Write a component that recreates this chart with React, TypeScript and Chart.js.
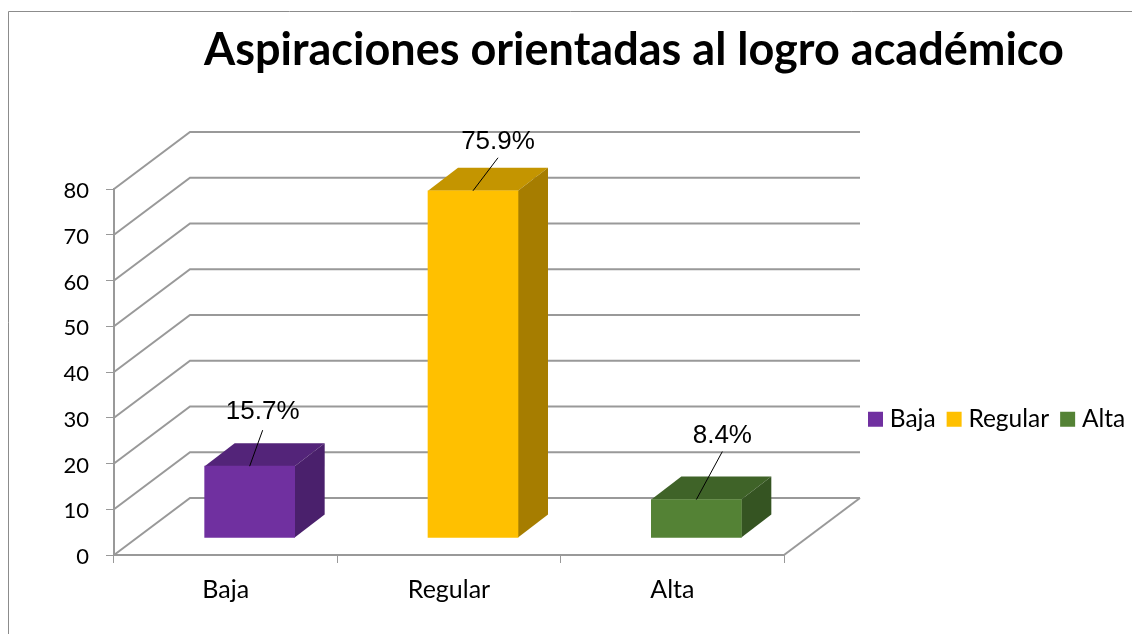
import React, { useEffect, useRef } from "react";
import { Chart, registerables } from "chart.js";

Chart.register(...registerables);

const categories = ["Baja", "Regular", "Alta"];
const values = [15.7, 75.9, 8.4];
const valueLabels = ["15.7%", "75.9%", "8.4%"];
const frontColors = ["#7030A0", "#FFC000", "#548235"];
const topColors = ["#532479", "#C49500", "#3F6328"];
const sideColors = ["#4A206C", "#A67D00", "#355422"];
const labelShiftX = [13, 25, 26];
const labelShiftY = [-54, -49, -64];
const leaderShiftY = [-36, -33, -48];
const chartTitle = "Aspiraciones orientadas al logro académico";

const GRID = "#999999";
const WALL_DX = 76;
const WALL_DY = 57;
const BAR_DX = 24;
const BAR_DY = 17;
const DEPTH_DX = 30;
const DEPTH_DY = 23;

const scene = {
  id: "scene",
  beforeDraw(chart: any) {
    const { ctx, width, height } = chart;
    ctx.save();
    ctx.fillStyle = "#fff";
    ctx.fillRect(0, 0, width, height);
    ctx.strokeStyle = "#8c8c8c";
    ctx.lineWidth = 1;
    ctx.beginPath();
    ctx.moveTo(8.5, height);
    ctx.lineTo(8.5, 11.5);
    ctx.lineTo(width, 11.5);
    ctx.stroke();
    ctx.restore();
  },
  afterLayout(chart: any) {
    const t = chart.titleBlock;
    t.left = 100;
    t.right = 1168;
    t.top = 50 - t.height / 2;
    t.bottom = t.top + t.height;
    const l = chart.legend;
    l.left = 873.5 - l.options.labels.padding;
    l.right = 1500;
    l.top = 407 - l.options.labels.padding;
    l.bottom = l.top + l.height;
  },
  beforeDatasetsDraw(chart: any) {
    const { ctx, scales, chartArea } = chart;
    const y = scales.y;
    ctx.save();
    ctx.strokeStyle = GRID;
    ctx.lineWidth = 2;
    y.ticks.forEach((tick: any) => {
      const py = y.getPixelForValue(tick.value);
      ctx.beginPath();
      ctx.moveTo(chartArea.left, py);
      ctx.lineTo(chartArea.left + WALL_DX, py - WALL_DY);
      ctx.lineTo(chartArea.right + WALL_DX, py - WALL_DY);
      ctx.stroke();
    });
    ctx.beginPath();
    ctx.moveTo(chartArea.right + WALL_DX, chartArea.bottom - WALL_DY);
    ctx.lineTo(chartArea.right, chartArea.bottom);
    ctx.stroke();
    ctx.restore();
  },
  beforeDatasetDraw(chart: any, args: any) {
    const { ctx } = chart;
    ctx.save();
    ctx.translate(BAR_DX, -BAR_DY);
    args.meta.data.forEach((bar: any, i: number) => {
      const l = bar.x - bar.width / 2;
      const r = bar.x + bar.width / 2;
      const t = bar.y;
      const b = bar.base;
      ctx.fillStyle = topColors[i];
      ctx.beginPath();
      ctx.moveTo(l, t);
      ctx.lineTo(l + DEPTH_DX, t - DEPTH_DY);
      ctx.lineTo(r + DEPTH_DX, t - DEPTH_DY);
      ctx.lineTo(r, t);
      ctx.closePath();
      ctx.fill();
      ctx.fillStyle = sideColors[i];
      ctx.beginPath();
      ctx.moveTo(r, t);
      ctx.lineTo(r + DEPTH_DX, t - DEPTH_DY);
      ctx.lineTo(r + DEPTH_DX, b - DEPTH_DY);
      ctx.lineTo(r, b);
      ctx.closePath();
      ctx.fill();
    });
  },
  afterDatasetDraw(chart: any, args: any) {
    const { ctx } = chart;
    ctx.restore();
    ctx.save();
    ctx.font = '26px "Liberation Sans"';
    ctx.textAlign = "center";
    ctx.textBaseline = "middle";
    args.meta.data.forEach((bar: any, i: number) => {
      const x = bar.x + BAR_DX;
      const y = bar.y - BAR_DY;
      ctx.strokeStyle = "#000";
      ctx.lineWidth = 1;
      ctx.beginPath();
      ctx.moveTo(x, y);
      ctx.lineTo(x + labelShiftX[i], y + leaderShiftY[i]);
      ctx.stroke();
      ctx.fillStyle = "#000";
      ctx.fillText(valueLabels[i], x + labelShiftX[i], y + labelShiftY[i]);
    });
    ctx.restore();
  },
};

export default function App() {
  const ref = useRef<HTMLCanvasElement>(null);
  useEffect(() => {
    const chart = new Chart(ref.current as HTMLCanvasElement, {
      type: "bar",
      data: {
        labels: categories,
        datasets: [
          {
            data: values,
            backgroundColor: frontColors,
            barThickness: 90,
            clip: false,
          } as any,
        ],
      },
      plugins: [scene],
      options: {
        responsive: false,
        animation: false,
        layout: { padding: { top: 84, right: 348, bottom: 0, left: 0 } },
        plugins: {
          title: {
            display: true,
            text: chartTitle,
            color: "#000",
            padding: 0,
            font: { family: "Lato", size: 45, weight: "bold" },
          },
          legend: {
            display: true,
            position: "top",
            align: "start",
            labels: {
              usePointStyle: true,
              pointStyle: "rect",
              boxWidth: 4,
              boxHeight: 15,
              padding: 16.5,
              color: "#000",
              font: { family: "Lato", size: 24.5 },
              generateLabels: () =>
                categories.map((text, i) => ({
                  text,
                  fillStyle: frontColors[i],
                  strokeStyle: frontColors[i],
                  lineWidth: 0,
                  pointStyle: "rect",
                  index: i,
                })),
            },
          },
          tooltip: { enabled: false },
        },
        scales: {
          x: {
            afterFit: (s: any) => {
              s.height = 79;
            },
            border: { color: GRID, width: 2 },
            grid: { drawOnChartArea: false, drawTicks: true, tickLength: 8, color: GRID, lineWidth: 1 },
            ticks: { color: "#000", padding: 12, font: { family: "Lato", size: 25 } },
          },
          y: {
            min: 0,
            max: 80,
            afterFit: (s: any) => {
              s.width = 114;
            },
            border: { color: GRID, width: 2 },
            grid: { drawOnChartArea: false, drawTicks: true, tickLength: 8, color: GRID, lineWidth: 1 },
            ticks: { stepSize: 10, color: "#000", padding: 17, labelOffset: 2, font: { family: "Lato", size: 22 } },
          },
        },
      },
    } as any);
    return () => chart.destroy();
  }, []);
  return (
    <div style={{ position: "fixed", left: 0, top: 0, width: 1132, height: 634 }}>
      <canvas ref={ref} width={1132} height={634} style={{ display: "block" }} />
    </div>
  );
}
